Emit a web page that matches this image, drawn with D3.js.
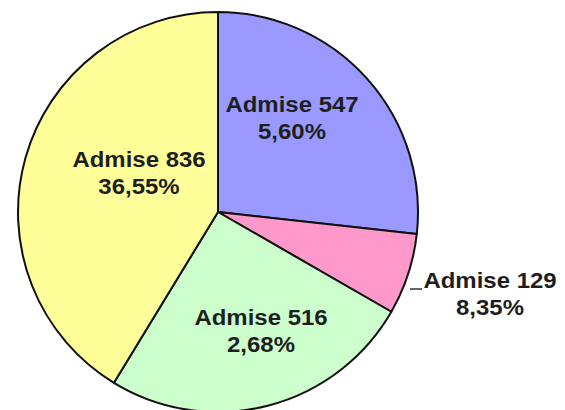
<!DOCTYPE html>
<html><head><meta charset="utf-8">
<script src="https://cdn.jsdelivr.net/npm/d3@7"></script>
<style>html,body{margin:0;padding:0;background:#fff;}svg{display:block;}</style>
</head><body>
<svg id="c" width="565" height="410"></svg>
<script>
const categories = ["Admise 547", "Admise 129", "Admise 516", "Admise 836"];
const sliceValues = [26.75, 6.56, 25.4, 41.29];
const percentLabels = ["5,60%", "8,35%", "2,68%", "36,55%"];
const colors = ["#9999FF", "#FF99CC", "#CCFFCC", "#FFFF99"];

// layout (label anchor points in px, line1 baseline)
const labelAnchors = [[292, 112], [490, 288], [261, 325], [139, 167]];

const svg = d3.select("#c");
const cx = 218, cy = 212, R = 200;
const g = svg.append("g").attr("transform", `translate(${cx},${cy})`);
const pie = d3.pie().sort(null).value(d => d)(sliceValues);
const arc = d3.arc().innerRadius(0).outerRadius(R);

g.selectAll("path").data(pie).join("path")
  .attr("d", arc)
  .attr("fill", (d, i) => colors[i])
  .attr("stroke", "#111")
  .attr("stroke-width", 2)
  .attr("stroke-linejoin", "round");

// leader for small slice
svg.append("line").attr("x1", 410).attr("x2", 422).attr("y1", 289).attr("y2", 289)
  .attr("stroke", "#333").attr("stroke-width", 1.5);

const lbl = svg.append("g")
  .attr("font-family", "Liberation Sans, Arial, sans-serif")
  .attr("font-weight", "bold")
  .attr("font-size", 22)
  .attr("fill", "#1e1e1e")
  .attr("text-anchor", "middle");

categories.forEach((c, i) => {
  const [x, y] = labelAnchors[i];
  const t = lbl.append("g").attr("transform", `translate(${x},${y}) scale(1.09,1)`);
  t.append("text").attr("x", 0).attr("y", 0).text(c);
  t.append("text").attr("x", 0).attr("y", 27).text(percentLabels[i]);
});
</script>
</body></html>
